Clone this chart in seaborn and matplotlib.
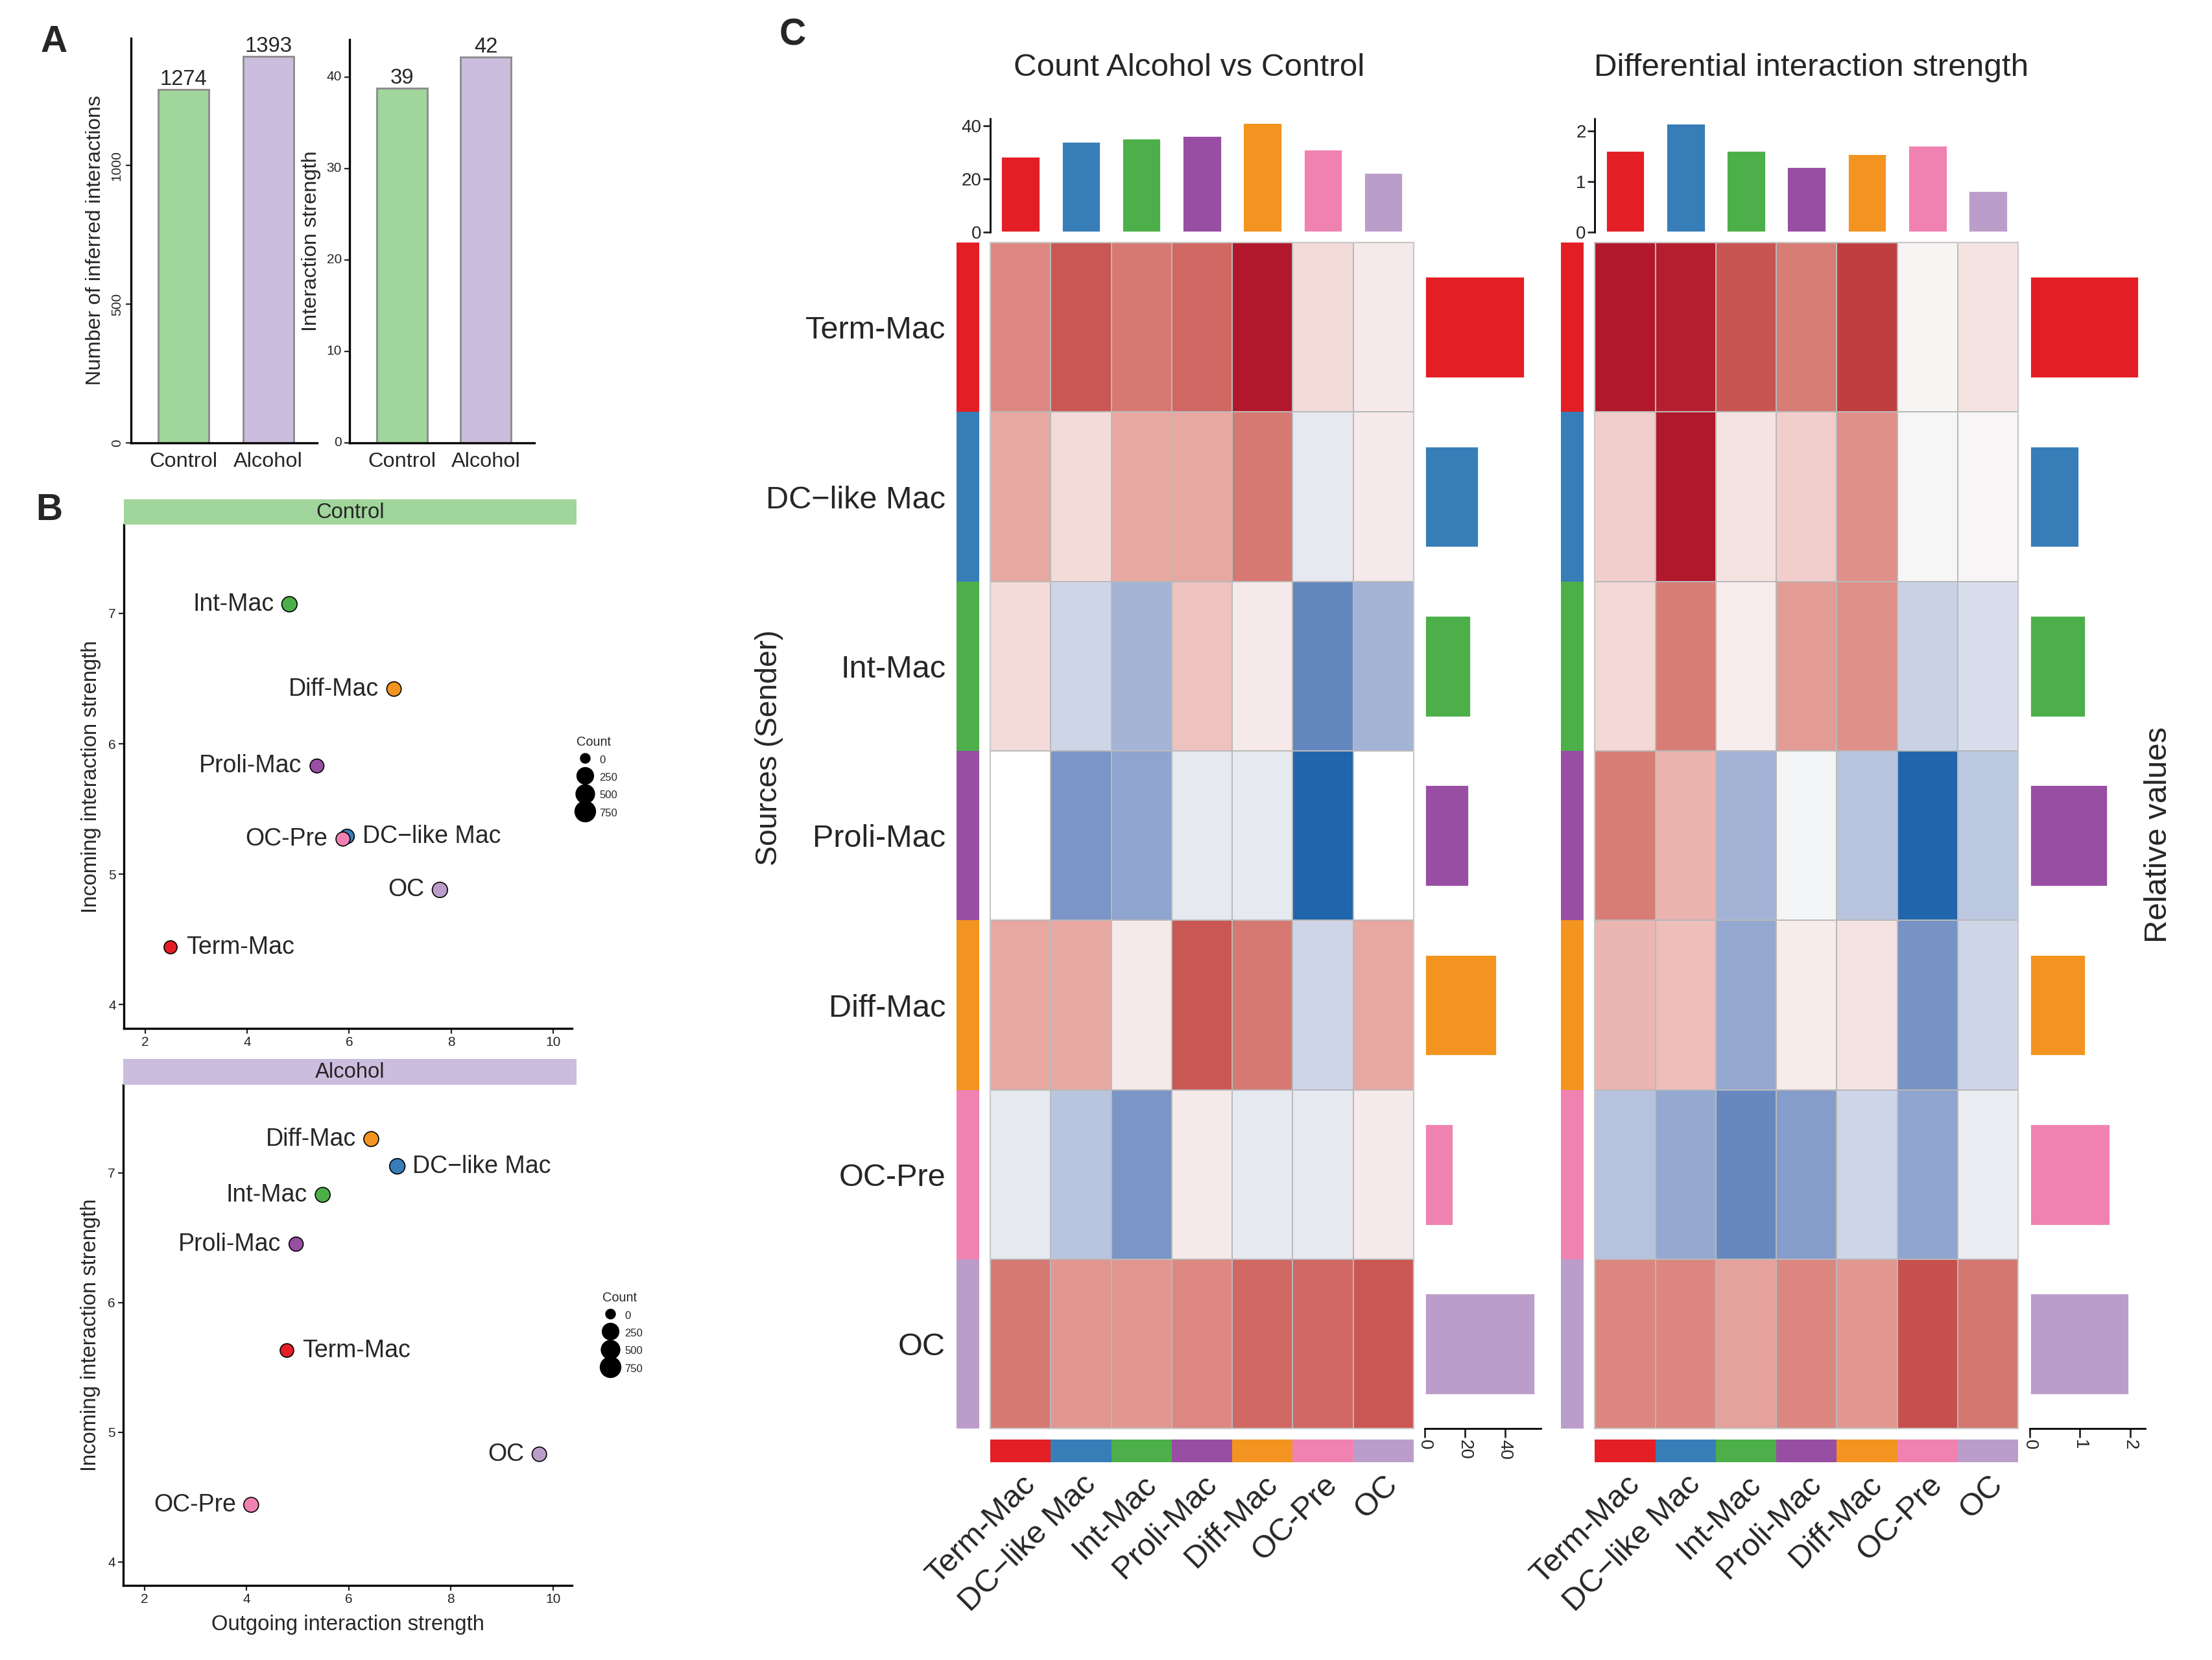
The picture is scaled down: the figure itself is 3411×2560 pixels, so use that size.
import numpy as np
import matplotlib
matplotlib.use("Agg")
import matplotlib.pyplot as plt
from matplotlib.colors import ListedColormap, to_rgb
from matplotlib.lines import Line2D
import seaborn as sns

# ---- A: overall comparison ----
groups = ["Control", "Alcohol"]
group_colors = ["#A0D59B", "#CBBDDE"]
n_interactions = [1274, 1393]
interaction_strength = [38.8, 42.2]

# ---- cell types (shared by B and C) ----
cell_types = ["Term-Mac", "DC\u2212like Mac", "Int-Mac", "Proli-Mac", "Diff-Mac", "OC-Pre", "OC"]
cell_colors = ["#E41E25", "#377EB8", "#4DAF4A", "#984EA3", "#F39420", "#F082B2", "#BB9DCA"]

# ---- B: outgoing vs incoming interaction strength ----
ctrl_out = [2.50, 5.96, 4.83, 5.37, 6.88, 5.88, 7.78]
ctrl_in = [4.44, 5.29, 7.07, 5.83, 6.42, 5.27, 4.88]
ctrl_count = [150, 200, 230, 180, 200, 185, 230]
alc_out = [4.79, 6.95, 5.49, 4.97, 6.44, 4.09, 9.73]
alc_in = [5.63, 7.05, 6.83, 6.45, 7.26, 4.44, 4.83]
alc_count = [170, 235, 215, 190, 215, 215, 200]
label_side = ["right", "right", "left", "left", "left", "left", "left"]
count_breaks = [0, 250, 500, 750]
count_diam = [4.9, 8.8, 9.9, 11.0]  # marker diameter (pt) of each legend break

# ---- C: differential heatmaps (relative values; rows = senders, cols = receivers) ----
count_diff = [
    [0.54, 0.77, 0.61, 0.70, 1.00, 0.14, 0.07],
    [0.39, 0.14, 0.39, 0.39, 0.61, -0.09, 0.07],
    [0.14, -0.22, -0.44, 0.25, 0.07, -0.76, -0.44],
    [np.nan, -0.65, -0.55, -0.09, -0.09, -1.00, np.nan],
    [0.39, 0.39, 0.07, 0.77, 0.61, -0.22, 0.39],
    [-0.09, -0.33, -0.65, 0.07, -0.09, -0.09, 0.07],
    [0.61, 0.47, 0.47, 0.54, 0.70, 0.70, 0.77],
]
strength_diff = [
    [1.00, 0.98, 0.78, 0.60, 0.87, 0.02, 0.10],
    [0.20, 1.00, 0.10, 0.20, 0.50, -0.01, 0.01],
    [0.15, 0.60, 0.05, 0.45, 0.50, -0.25, -0.17],
    [0.60, 0.33, -0.45, -0.02, -0.33, -1.00, -0.32],
    [0.32, 0.28, -0.52, 0.06, 0.10, -0.67, -0.22],
    [-0.34, -0.52, -0.75, -0.60, -0.22, -0.55, -0.07],
    [0.55, 0.55, 0.42, 0.55, 0.47, 0.80, 0.63],
]
count_col_sum = [28.5, 34.3, 35.4, 36.3, 41.2, 31.3, 22.5]
count_row_sum = [50, 27, 23, 22, 36, 14.3, 55]
strength_col_sum = [1.62, 2.16, 1.62, 1.30, 1.55, 1.72, 0.83]
strength_row_sum = [2.17, 0.99, 1.11, 1.55, 1.11, 1.60, 1.98]

sns.set_theme(style="white")
plt.rcParams["font.family"] = ["Liberation Sans", "DejaVu Sans"]
plt.rcParams["axes.linewidth"] = 1.2

W, H = 1568, 1177  # layout grid (reference pixels)


def box(l, t, r, b):
    return [l / W, 1 - b / H, (r - l) / W, (b - t) / H]


def pt(x, y):
    return (x / W, 1 - y / H)


# LAB interpolation like ComplexHeatmap's colorRamp2
M = np.array([[0.4124564, 0.3575761, 0.1804375],
              [0.2126729, 0.7151522, 0.0721750],
              [0.0193339, 0.1191920, 0.9503041]])
WHITE = np.array([0.95047, 1.0, 1.08883])


def to_lab(c):
    rgb = np.array(to_rgb(c))
    lin = np.where(rgb <= 0.04045, rgb / 12.92, ((rgb + 0.055) / 1.055) ** 2.4)
    xyz = M @ lin / WHITE
    f = np.where(xyz > 0.008856, np.cbrt(xyz), 7.787 * xyz + 16 / 116)
    return np.array([116 * f[1] - 16, 500 * (f[0] - f[1]), 200 * (f[1] - f[2])])


def from_lab(lab):
    fy = (lab[:, 0] + 16) / 116
    f = np.stack([fy + lab[:, 1] / 500, fy, fy - lab[:, 2] / 200], axis=1)
    xyz = np.where(f ** 3 > 0.008856, f ** 3, (f - 16 / 116) / 7.787) * WHITE
    lin = xyz @ np.linalg.inv(M).T
    lin = np.clip(lin, 0, 1)
    rgb = np.where(lin <= 0.0031308, 12.92 * lin, 1.055 * lin ** (1 / 2.4) - 0.055)
    return np.clip(rgb, 0, 1)


t = np.linspace(0, 1, 128)[:, None]
lab_b, lab_w, lab_r = to_lab("#2166ac"), to_lab("#f7f7f7"), to_lab("#b2182b")
diff_cmap = ListedColormap(np.vstack([from_lab(lab_b + (lab_w - lab_b) * t),
                                      from_lab(lab_w + (lab_r - lab_w) * t)]))
type_cmap = ListedColormap(cell_colors)

fig = plt.figure(figsize=(3411 / 200, 2560 / 200), dpi=200)

# ---------------- Panel A ----------------
for rect, vals, lim, ticks, ylab, rot in [
    (box(93, 27, 225, 314), n_interactions, 1460, [0, 500, 1000], "Number of inferred interactions", 90),
    (box(248, 28, 379, 314), interaction_strength, 44.1, [0, 10, 20, 30, 40], "Interaction strength", 0),
]:
    ax = fig.add_axes(rect)
    sns.barplot(x=groups, y=vals, hue=groups, palette=group_colors, width=0.6, saturation=1,
                edgecolor="#8a8a8a", linewidth=1.0, legend=False, ax=ax)
    sns.despine(ax=ax)
    ax.set_xlim(-0.62, 1.58)
    ax.set_ylim(0, lim)
    ax.set_yticks(ticks)
    ax.set_yticklabels([str(v) for v in ticks], rotation=rot, va="center", fontsize=7.5)
    ax.set_ylabel(ylab, fontsize=11.7, labelpad=3)
    ax.tick_params(axis="x", labelsize=11.7, length=3, width=0.8, pad=2)
    ax.tick_params(axis="y", length=3, width=0.8, pad=1.5, left=True)
    for cont in ax.containers:
        ax.bar_label(cont, labels=[f"{v:.0f}" for v in cont.datavalues], fontsize=11.8, padding=0)
    for s in ["left", "bottom"]:
        ax.spines[s].set_color("black")

# ---------------- Panel B ----------------
legend_handles = [Line2D([], [], marker="o", ls="", color="black", markersize=d) for d in count_diam]

for (l, t0, r, b), strip, scol, xs, ys, cnts, show_x, leg_at in [
    ((88, 372, 405.5, 729), "Control", "#A0D59B", ctrl_out, ctrl_in, ctrl_count, False, (405, 518)),
    ((87.5, 769, 405.5, 1124), "Alcohol", "#CBBDDE", alc_out, alc_in, alc_count, True, (423, 912)),
]:
    ax = fig.add_axes(box(l, t0, r, b))
    sizes = np.interp(cnts, count_breaks, count_diam) ** 2
    sns.scatterplot(x=xs, y=ys, hue=cell_types, hue_order=cell_types, palette=cell_colors,
                    s=sizes, edgecolor="black", linewidth=0.6, legend=False, ax=ax, zorder=3)
    for x, y, name, side in zip(xs, ys, cell_types, label_side):
        off = 8.5 if side == "right" else -8.5
        ax.annotate(name, (x, y), xytext=(off, 0), textcoords="offset points",
                    ha="left" if side == "right" else "right", va="center", fontsize=13.5)
    sns.despine(ax=ax)
    ax.set_xlim(1.59, 10.37)
    ax.set_ylim(3.82, 7.68)
    ax.set_xticks([2, 4, 6, 8, 10])
    ax.set_yticks([4, 5, 6, 7])
    ax.tick_params(labelsize=7.5, length=3, width=0.8, pad=1.5, left=True, bottom=True)
    ax.set_ylabel("Incoming interaction strength", fontsize=11.8, labelpad=4)
    if show_x:
        ax.set_xlabel("Outgoing interaction strength", fontsize=11.8, labelpad=5)
    for s in ["left", "bottom"]:
        ax.spines[s].set_color("black")
    sax = fig.add_axes(box(l, t0 - 18, r + 3, t0))
    sax.set_facecolor(scol)
    sax.set_xticks([])
    sax.set_yticks([])
    for s in sax.spines.values():
        s.set_visible(False)
    sax.text(0.5, 0.48, strip, ha="center", va="center", fontsize=11.8, transform=sax.transAxes)
    fig.legend(legend_handles, ["0", "250", "500", "750"], title="Count", loc="upper left",
               bbox_to_anchor=pt(*leg_at), frameon=False, fontsize=6, title_fontsize=7.2,
               handlelength=1.5, handleheight=1.45, handletextpad=0.6, labelspacing=0.45,
               borderpad=0, alignment="left")

# ---------------- Panel C ----------------
idx = np.arange(len(cell_types))


def heat_block(x0, title, title_x, mat, col_sum, row_sum, col_max, row_max, col_ticks, row_ticks,
               row_labels):
    top, bot = 172, 1013
    # main heatmap
    ax = fig.add_axes(box(x0, top, x0 + 300, bot))
    ax.set_facecolor("white")
    sns.heatmap(np.array(mat, dtype=float), cmap=diff_cmap, vmin=-1, vmax=1, cbar=False,
                linewidths=0.6, linecolor="#b9b9b9", xticklabels=False, yticklabels=False, ax=ax)
    for s in ax.spines.values():
        s.set_visible(True)
        s.set_color("#c9c9c9")
        s.set_linewidth(0.8)
    # column sums (top)
    axt = fig.add_axes(box(x0, 84, x0 + 300, 164.8))
    sns.barplot(x=cell_types, y=col_sum, hue=cell_types, palette=cell_colors, width=0.65,
                legend=False, ax=axt, saturation=1)
    axt.set_xlim(-0.5, len(cell_types) - 0.5)
    axt.set_ylim(0, col_max)
    axt.set_xticks([])
    axt.set_yticks(col_ticks)
    axt.set_yticklabels([str(v) for v in col_ticks], fontsize=10)
    axt.tick_params(axis="y", left=True, length=4, width=1.0, pad=1)
    axt.set_ylabel("")
    sns.despine(ax=axt, bottom=True)
    axt.spines["left"].set_color("black")
    axt.spines["left"].set_linewidth(1.0)
    # row sums (right)
    axr = fig.add_axes(box(x0 + 308, top, x0 + 390, bot))
    sns.barplot(y=cell_types, x=row_sum, hue=cell_types, palette=cell_colors, width=0.6,
                orient="h", legend=False, ax=axr, saturation=1)
    axr.set_ylim(len(cell_types) - 0.5, -0.5)
    axr.set_xlim(0, row_max)
    axr.set_yticks([])
    axr.set_xticks(row_ticks)
    axr.set_xticklabels([str(v) for v in row_ticks], rotation=-90, fontsize=10)
    axr.tick_params(axis="x", bottom=True, length=5, width=1.0, pad=1)
    axr.set_xlabel("")
    sns.despine(ax=axr, left=True)
    axr.spines["bottom"].set_color("black")
    axr.spines["bottom"].set_linewidth(1.0)
    # row annotation
    axa = fig.add_axes(box(x0 - 24, top, x0 - 8, bot))
    sns.heatmap(idx[:, None], cmap=type_cmap, vmin=-0.5, vmax=len(cell_types) - 0.5, cbar=False,
                xticklabels=False, yticklabels=False, ax=axa)
    if row_labels:
        axa.set_yticks(idx + 0.5)
        axa.set_yticklabels(cell_types, rotation=0, fontsize=17.5)
        axa.tick_params(axis="y", length=0, pad=6)
    # column annotation
    axc = fig.add_axes(box(x0, 1020.7, x0 + 300, 1037))
    sns.heatmap(idx[None, :], cmap=type_cmap, vmin=-0.5, vmax=len(cell_types) - 0.5, cbar=False,
                xticklabels=False, yticklabels=False, ax=axc)
    axc.set_xticks(idx + 0.5)
    axc.set_xticklabels(cell_types, rotation=45, ha="right", rotation_mode="anchor", fontsize=17.5)
    axc.tick_params(axis="x", length=0, pad=4)
    fig.text(*pt(title_x, 48), title, ha="center", va="center", fontsize=17.8)


heat_block(702, "Count Alcohol vs Control", 843, count_diff, count_col_sum, count_row_sum,
           42.8, 57.8, [0, 20, 40], [0, 20, 40], True)
heat_block(1130.6, "Differential interaction strength", 1284, strength_diff, strength_col_sum,
           strength_row_sum, 2.25, 2.3, [0, 1, 2], [0, 1, 2], False)

fig.text(*pt(545, 530), "Sources (Sender)", rotation=90, ha="center", va="center", fontsize=16.7)
fig.text(*pt(1530, 592), "Relative values", rotation=90, ha="center", va="center", fontsize=17.7)

# panel letters
for letter, (x, y) in [("A", (38, 30)), ("B", (35, 362)), ("C", (562, 25))]:
    fig.text(*pt(x, y), letter, ha="center", va="center", fontsize=20.5, fontweight="bold")

fig.savefig("out.png", dpi=200)
